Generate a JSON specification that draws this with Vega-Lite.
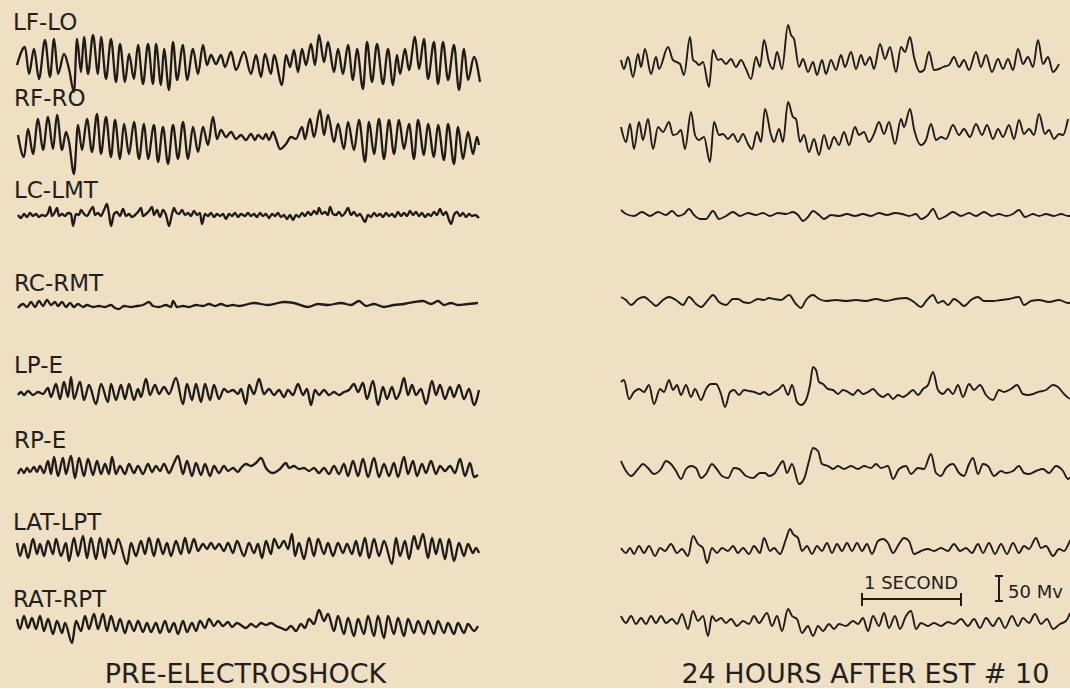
{
"$schema":"https://vega.github.io/schema/vega-lite/v6.json",
"background":"#efe0c4",
"padding":{"left":12,"top":12,"right":0,"bottom":0},
"spacing":132,
"config":{"view":{"stroke":null},"font":"DejaVu Sans"},
"datasets":{
"pre":[
{"ch":"LF-LO","t":0.01,"v":-2},{"ch":"LF-LO","t":0.09,"v":34},{"ch":"LF-LO","t":0.13,"v":-20},{"ch":"LF-LO","t":0.18,"v":30},{"ch":"LF-LO","t":0.23,"v":-30},{"ch":"LF-LO","t":0.29,"v":48},{"ch":"LF-LO","t":0.34,"v":-26},{"ch":"LF-LO","t":0.38,"v":50},{"ch":"LF-LO","t":0.42,"v":-20},{"ch":"LF-LO","t":0.48,"v":20},{"ch":"LF-LO","t":0.53,"v":-10},{"ch":"LF-LO","t":0.58,"v":-56},{"ch":"LF-LO","t":0.61,"v":50},{"ch":"LF-LO","t":0.65,"v":-16},{"ch":"LF-LO","t":0.68,"v":54},{"ch":"LF-LO","t":0.72,"v":-20},{"ch":"LF-LO","t":0.77,"v":58},{"ch":"LF-LO","t":0.82,"v":-20},{"ch":"LF-LO","t":0.85,"v":54},{"ch":"LF-LO","t":0.90,"v":-30},{"ch":"LF-LO","t":0.95,"v":50},{"ch":"LF-LO","t":1.00,"v":-36},{"ch":"LF-LO","t":1.04,"v":40},{"ch":"LF-LO","t":1.09,"v":-36},{"ch":"LF-LO","t":1.13,"v":20},{"ch":"LF-LO","t":1.18,"v":-30},{"ch":"LF-LO","t":1.22,"v":38},{"ch":"LF-LO","t":1.27,"v":-40},{"ch":"LF-LO","t":1.32,"v":40},{"ch":"LF-LO","t":1.37,"v":-40},{"ch":"LF-LO","t":1.40,"v":40},{"ch":"LF-LO","t":1.45,"v":-42},{"ch":"LF-LO","t":1.48,"v":30},{"ch":"LF-LO","t":1.53,"v":-52},{"ch":"LF-LO","t":1.57,"v":44},{"ch":"LF-LO","t":1.61,"v":-32},{"ch":"LF-LO","t":1.67,"v":38},{"ch":"LF-LO","t":1.71,"v":-32},{"ch":"LF-LO","t":1.77,"v":30},{"ch":"LF-LO","t":1.82,"v":-20},{"ch":"LF-LO","t":1.87,"v":38},{"ch":"LF-LO","t":1.91,"v":-2},{"ch":"LF-LO","t":1.95,"v":18},{"ch":"LF-LO","t":2.00,"v":0},{"ch":"LF-LO","t":2.05,"v":18},{"ch":"LF-LO","t":2.09,"v":-6},{"ch":"LF-LO","t":2.15,"v":24},{"ch":"LF-LO","t":2.20,"v":-12},{"ch":"LF-LO","t":2.28,"v":24},{"ch":"LF-LO","t":2.35,"v":-20},{"ch":"LF-LO","t":2.40,"v":18},{"ch":"LF-LO","t":2.45,"v":-26},{"ch":"LF-LO","t":2.49,"v":20},{"ch":"LF-LO","t":2.55,"v":-20},{"ch":"LF-LO","t":2.58,"v":18},{"ch":"LF-LO","t":2.66,"v":-42},{"ch":"LF-LO","t":2.70,"v":18},{"ch":"LF-LO","t":2.74,"v":-6},{"ch":"LF-LO","t":2.78,"v":28},{"ch":"LF-LO","t":2.82,"v":-16},{"ch":"LF-LO","t":2.86,"v":30},{"ch":"LF-LO","t":2.90,"v":-2},{"ch":"LF-LO","t":2.95,"v":40},{"ch":"LF-LO","t":2.99,"v":-2},{"ch":"LF-LO","t":3.03,"v":58},{"ch":"LF-LO","t":3.08,"v":4},{"ch":"LF-LO","t":3.12,"v":44},{"ch":"LF-LO","t":3.18,"v":-16},{"ch":"LF-LO","t":3.22,"v":30},{"ch":"LF-LO","t":3.27,"v":-20},{"ch":"LF-LO","t":3.32,"v":38},{"ch":"LF-LO","t":3.37,"v":-32},{"ch":"LF-LO","t":3.41,"v":30},{"ch":"LF-LO","t":3.47,"v":-50},{"ch":"LF-LO","t":3.51,"v":44},{"ch":"LF-LO","t":3.56,"v":-36},{"ch":"LF-LO","t":3.61,"v":40},{"ch":"LF-LO","t":3.67,"v":-40},{"ch":"LF-LO","t":3.72,"v":30},{"ch":"LF-LO","t":3.77,"v":-42},{"ch":"LF-LO","t":3.81,"v":18},{"ch":"LF-LO","t":3.84,"v":-20},{"ch":"LF-LO","t":3.89,"v":30},{"ch":"LF-LO","t":3.93,"v":-12},{"ch":"LF-LO","t":3.99,"v":54},{"ch":"LF-LO","t":4.03,"v":-10},{"ch":"LF-LO","t":4.08,"v":50},{"ch":"LF-LO","t":4.12,"v":-30},{"ch":"LF-LO","t":4.18,"v":44},{"ch":"LF-LO","t":4.22,"v":-40},{"ch":"LF-LO","t":4.27,"v":44},{"ch":"LF-LO","t":4.32,"v":-32},{"ch":"LF-LO","t":4.38,"v":38},{"ch":"LF-LO","t":4.43,"v":-52},{"ch":"LF-LO","t":4.48,"v":30},{"ch":"LF-LO","t":4.52,"v":-32},{"ch":"LF-LO","t":4.58,"v":14},{"ch":"LF-LO","t":4.64,"v":-36},
{"ch":"RF-RO","t":0.02,"v":18},{"ch":"RF-RO","t":0.08,"v":-26},{"ch":"RF-RO","t":0.12,"v":30},{"ch":"RF-RO","t":0.17,"v":-20},{"ch":"RF-RO","t":0.22,"v":50},{"ch":"RF-RO","t":0.27,"v":-12},{"ch":"RF-RO","t":0.32,"v":54},{"ch":"RF-RO","t":0.37,"v":-10},{"ch":"RF-RO","t":0.41,"v":58},{"ch":"RF-RO","t":0.46,"v":-12},{"ch":"RF-RO","t":0.50,"v":24},{"ch":"RF-RO","t":0.53,"v":4},{"ch":"RF-RO","t":0.58,"v":-60},{"ch":"RF-RO","t":0.62,"v":38},{"ch":"RF-RO","t":0.66,"v":-12},{"ch":"RF-RO","t":0.71,"v":50},{"ch":"RF-RO","t":0.76,"v":-16},{"ch":"RF-RO","t":0.81,"v":60},{"ch":"RF-RO","t":0.85,"v":-20},{"ch":"RF-RO","t":0.90,"v":54},{"ch":"RF-RO","t":0.95,"v":-26},{"ch":"RF-RO","t":0.99,"v":48},{"ch":"RF-RO","t":1.04,"v":-30},{"ch":"RF-RO","t":1.08,"v":40},{"ch":"RF-RO","t":1.13,"v":-20},{"ch":"RF-RO","t":1.18,"v":44},{"ch":"RF-RO","t":1.23,"v":-30},{"ch":"RF-RO","t":1.28,"v":40},{"ch":"RF-RO","t":1.32,"v":-30},{"ch":"RF-RO","t":1.38,"v":38},{"ch":"RF-RO","t":1.42,"v":-36},{"ch":"RF-RO","t":1.47,"v":34},{"ch":"RF-RO","t":1.52,"v":-40},{"ch":"RF-RO","t":1.57,"v":38},{"ch":"RF-RO","t":1.62,"v":-30},{"ch":"RF-RO","t":1.67,"v":44},{"ch":"RF-RO","t":1.72,"v":-30},{"ch":"RF-RO","t":1.77,"v":34},{"ch":"RF-RO","t":1.82,"v":-16},{"ch":"RF-RO","t":1.87,"v":34},{"ch":"RF-RO","t":1.92,"v":-2},{"ch":"RF-RO","t":1.97,"v":54},{"ch":"RF-RO","t":2.01,"v":10},{"ch":"RF-RO","t":2.05,"v":28},{"ch":"RF-RO","t":2.10,"v":14},{"ch":"RF-RO","t":2.15,"v":24},{"ch":"RF-RO","t":2.20,"v":10},{"ch":"RF-RO","t":2.25,"v":18},{"ch":"RF-RO","t":2.30,"v":8},{"ch":"RF-RO","t":2.35,"v":20},{"ch":"RF-RO","t":2.39,"v":8},{"ch":"RF-RO","t":2.42,"v":18},{"ch":"RF-RO","t":2.47,"v":10},{"ch":"RF-RO","t":2.50,"v":20},{"ch":"RF-RO","t":2.53,"v":8},{"ch":"RF-RO","t":2.57,"v":24},{"ch":"RF-RO","t":2.60,"v":10},{"ch":"RF-RO","t":2.64,"v":-10},{"ch":"RF-RO","t":2.70,"v":0},{"ch":"RF-RO","t":2.75,"v":14},{"ch":"RF-RO","t":2.80,"v":10},{"ch":"RF-RO","t":2.86,"v":34},{"ch":"RF-RO","t":2.89,"v":10},{"ch":"RF-RO","t":2.94,"v":50},{"ch":"RF-RO","t":2.98,"v":14},{"ch":"RF-RO","t":3.04,"v":68},{"ch":"RF-RO","t":3.08,"v":18},{"ch":"RF-RO","t":3.12,"v":58},{"ch":"RF-RO","t":3.18,"v":4},{"ch":"RF-RO","t":3.22,"v":40},{"ch":"RF-RO","t":3.28,"v":-10},{"ch":"RF-RO","t":3.32,"v":44},{"ch":"RF-RO","t":3.38,"v":-12},{"ch":"RF-RO","t":3.43,"v":48},{"ch":"RF-RO","t":3.49,"v":-36},{"ch":"RF-RO","t":3.53,"v":44},{"ch":"RF-RO","t":3.58,"v":-20},{"ch":"RF-RO","t":3.63,"v":50},{"ch":"RF-RO","t":3.68,"v":-30},{"ch":"RF-RO","t":3.73,"v":48},{"ch":"RF-RO","t":3.78,"v":-20},{"ch":"RF-RO","t":3.83,"v":48},{"ch":"RF-RO","t":3.88,"v":-10},{"ch":"RF-RO","t":3.93,"v":40},{"ch":"RF-RO","t":3.98,"v":-30},{"ch":"RF-RO","t":4.02,"v":48},{"ch":"RF-RO","t":4.08,"v":-22},{"ch":"RF-RO","t":4.12,"v":40},{"ch":"RF-RO","t":4.18,"v":-26},{"ch":"RF-RO","t":4.22,"v":38},{"ch":"RF-RO","t":4.28,"v":-32},{"ch":"RF-RO","t":4.32,"v":40},{"ch":"RF-RO","t":4.38,"v":-40},{"ch":"RF-RO","t":4.42,"v":34},{"ch":"RF-RO","t":4.47,"v":-30},{"ch":"RF-RO","t":4.52,"v":24},{"ch":"RF-RO","t":4.57,"v":-20},{"ch":"RF-RO","t":4.61,"v":14},{"ch":"RF-RO","t":4.63,"v":-2},
{"ch":"LC-LMT","t":0.02,"v":18},{"ch":"LC-LMT","t":0.05,"v":12},{"ch":"LC-LMT","t":0.08,"v":20},{"ch":"LC-LMT","t":0.11,"v":14},{"ch":"LC-LMT","t":0.14,"v":22},{"ch":"LC-LMT","t":0.17,"v":16},{"ch":"LC-LMT","t":0.20,"v":20},{"ch":"LC-LMT","t":0.23,"v":14},{"ch":"LC-LMT","t":0.26,"v":18},{"ch":"LC-LMT","t":0.29,"v":16},{"ch":"LC-LMT","t":0.32,"v":22},{"ch":"LC-LMT","t":0.34,"v":34},{"ch":"LC-LMT","t":0.36,"v":16},{"ch":"LC-LMT","t":0.39,"v":24},{"ch":"LC-LMT","t":0.41,"v":32},{"ch":"LC-LMT","t":0.43,"v":16},{"ch":"LC-LMT","t":0.46,"v":20},{"ch":"LC-LMT","t":0.49,"v":16},{"ch":"LC-LMT","t":0.52,"v":22},{"ch":"LC-LMT","t":0.55,"v":20},{"ch":"LC-LMT","t":0.57,"v":-4},{"ch":"LC-LMT","t":0.60,"v":20},{"ch":"LC-LMT","t":0.63,"v":18},{"ch":"LC-LMT","t":0.65,"v":28},{"ch":"LC-LMT","t":0.68,"v":20},{"ch":"LC-LMT","t":0.71,"v":16},{"ch":"LC-LMT","t":0.74,"v":26},{"ch":"LC-LMT","t":0.77,"v":34},{"ch":"LC-LMT","t":0.79,"v":18},{"ch":"LC-LMT","t":0.82,"v":22},{"ch":"LC-LMT","t":0.85,"v":16},{"ch":"LC-LMT","t":0.88,"v":28},{"ch":"LC-LMT","t":0.91,"v":40},{"ch":"LC-LMT","t":0.93,"v":20},{"ch":"LC-LMT","t":0.95,"v":-4},{"ch":"LC-LMT","t":0.98,"v":20},{"ch":"LC-LMT","t":1.01,"v":24},{"ch":"LC-LMT","t":1.04,"v":16},{"ch":"LC-LMT","t":1.07,"v":30},{"ch":"LC-LMT","t":1.10,"v":16},{"ch":"LC-LMT","t":1.13,"v":20},{"ch":"LC-LMT","t":1.16,"v":14},{"ch":"LC-LMT","t":1.19,"v":18},{"ch":"LC-LMT","t":1.22,"v":24},{"ch":"LC-LMT","t":1.25,"v":32},{"ch":"LC-LMT","t":1.27,"v":16},{"ch":"LC-LMT","t":1.30,"v":20},{"ch":"LC-LMT","t":1.33,"v":26},{"ch":"LC-LMT","t":1.36,"v":34},{"ch":"LC-LMT","t":1.38,"v":18},{"ch":"LC-LMT","t":1.41,"v":28},{"ch":"LC-LMT","t":1.44,"v":14},{"ch":"LC-LMT","t":1.47,"v":28},{"ch":"LC-LMT","t":1.50,"v":18},{"ch":"LC-LMT","t":1.53,"v":-4},{"ch":"LC-LMT","t":1.56,"v":20},{"ch":"LC-LMT","t":1.58,"v":32},{"ch":"LC-LMT","t":1.60,"v":24},{"ch":"LC-LMT","t":1.63,"v":20},{"ch":"LC-LMT","t":1.66,"v":28},{"ch":"LC-LMT","t":1.69,"v":18},{"ch":"LC-LMT","t":1.72,"v":22},{"ch":"LC-LMT","t":1.75,"v":16},{"ch":"LC-LMT","t":1.78,"v":26},{"ch":"LC-LMT","t":1.81,"v":18},{"ch":"LC-LMT","t":1.84,"v":22},{"ch":"LC-LMT","t":1.86,"v":0},{"ch":"LC-LMT","t":1.89,"v":20},{"ch":"LC-LMT","t":1.92,"v":16},{"ch":"LC-LMT","t":1.95,"v":22},{"ch":"LC-LMT","t":1.98,"v":14},{"ch":"LC-LMT","t":2.01,"v":20},{"ch":"LC-LMT","t":2.04,"v":16},{"ch":"LC-LMT","t":2.07,"v":20},{"ch":"LC-LMT","t":2.10,"v":10},{"ch":"LC-LMT","t":2.13,"v":20},{"ch":"LC-LMT","t":2.16,"v":16},{"ch":"LC-LMT","t":2.19,"v":22},{"ch":"LC-LMT","t":2.22,"v":14},{"ch":"LC-LMT","t":2.25,"v":20},{"ch":"LC-LMT","t":2.29,"v":16},{"ch":"LC-LMT","t":2.32,"v":22},{"ch":"LC-LMT","t":2.35,"v":16},{"ch":"LC-LMT","t":2.38,"v":20},{"ch":"LC-LMT","t":2.41,"v":14},{"ch":"LC-LMT","t":2.44,"v":22},{"ch":"LC-LMT","t":2.47,"v":16},{"ch":"LC-LMT","t":2.50,"v":20},{"ch":"LC-LMT","t":2.53,"v":12},{"ch":"LC-LMT","t":2.56,"v":20},{"ch":"LC-LMT","t":2.59,"v":16},{"ch":"LC-LMT","t":2.62,"v":22},{"ch":"LC-LMT","t":2.65,"v":14},{"ch":"LC-LMT","t":2.68,"v":18},{"ch":"LC-LMT","t":2.71,"v":10},{"ch":"LC-LMT","t":2.74,"v":18},{"ch":"LC-LMT","t":2.77,"v":8},{"ch":"LC-LMT","t":2.80,"v":18},{"ch":"LC-LMT","t":2.83,"v":14},{"ch":"LC-LMT","t":2.86,"v":22},{"ch":"LC-LMT","t":2.89,"v":16},{"ch":"LC-LMT","t":2.92,"v":24},{"ch":"LC-LMT","t":2.95,"v":18},{"ch":"LC-LMT","t":2.98,"v":26},{"ch":"LC-LMT","t":3.01,"v":20},{"ch":"LC-LMT","t":3.03,"v":32},{"ch":"LC-LMT","t":3.06,"v":20},{"ch":"LC-LMT","t":3.09,"v":24},{"ch":"LC-LMT","t":3.12,"v":18},{"ch":"LC-LMT","t":3.14,"v":34},{"ch":"LC-LMT","t":3.17,"v":20},{"ch":"LC-LMT","t":3.20,"v":18},{"ch":"LC-LMT","t":3.23,"v":24},{"ch":"LC-LMT","t":3.26,"v":16},{"ch":"LC-LMT","t":3.29,"v":22},{"ch":"LC-LMT","t":3.32,"v":32},{"ch":"LC-LMT","t":3.35,"v":18},{"ch":"LC-LMT","t":3.38,"v":24},{"ch":"LC-LMT","t":3.41,"v":16},{"ch":"LC-LMT","t":3.44,"v":20},{"ch":"LC-LMT","t":3.47,"v":10},{"ch":"LC-LMT","t":3.49,"v":4},{"ch":"LC-LMT","t":3.52,"v":18},{"ch":"LC-LMT","t":3.55,"v":14},{"ch":"LC-LMT","t":3.58,"v":22},{"ch":"LC-LMT","t":3.61,"v":16},{"ch":"LC-LMT","t":3.64,"v":20},{"ch":"LC-LMT","t":3.67,"v":14},{"ch":"LC-LMT","t":3.70,"v":22},{"ch":"LC-LMT","t":3.73,"v":16},{"ch":"LC-LMT","t":3.76,"v":20},{"ch":"LC-LMT","t":3.79,"v":14},{"ch":"LC-LMT","t":3.82,"v":24},{"ch":"LC-LMT","t":3.85,"v":16},{"ch":"LC-LMT","t":3.88,"v":22},{"ch":"LC-LMT","t":3.91,"v":16},{"ch":"LC-LMT","t":3.94,"v":26},{"ch":"LC-LMT","t":3.97,"v":18},{"ch":"LC-LMT","t":4.00,"v":24},{"ch":"LC-LMT","t":4.03,"v":16},{"ch":"LC-LMT","t":4.06,"v":22},{"ch":"LC-LMT","t":4.09,"v":14},{"ch":"LC-LMT","t":4.12,"v":20},{"ch":"LC-LMT","t":4.15,"v":16},{"ch":"LC-LMT","t":4.18,"v":24},{"ch":"LC-LMT","t":4.21,"v":18},{"ch":"LC-LMT","t":4.24,"v":30},{"ch":"LC-LMT","t":4.27,"v":18},{"ch":"LC-LMT","t":4.30,"v":24},{"ch":"LC-LMT","t":4.33,"v":8},{"ch":"LC-LMT","t":4.35,"v":0},{"ch":"LC-LMT","t":4.38,"v":18},{"ch":"LC-LMT","t":4.41,"v":24},{"ch":"LC-LMT","t":4.44,"v":16},{"ch":"LC-LMT","t":4.47,"v":22},{"ch":"LC-LMT","t":4.50,"v":14},{"ch":"LC-LMT","t":4.53,"v":20},{"ch":"LC-LMT","t":4.56,"v":16},{"ch":"LC-LMT","t":4.59,"v":18},{"ch":"LC-LMT","t":4.63,"v":12},
{"ch":"RC-RMT","t":0.02,"v":-8},{"ch":"RC-RMT","t":0.07,"v":0},{"ch":"RC-RMT","t":0.11,"v":-6},{"ch":"RC-RMT","t":0.15,"v":4},{"ch":"RC-RMT","t":0.19,"v":-6},{"ch":"RC-RMT","t":0.23,"v":6},{"ch":"RC-RMT","t":0.27,"v":-4},{"ch":"RC-RMT","t":0.31,"v":8},{"ch":"RC-RMT","t":0.35,"v":-2},{"ch":"RC-RMT","t":0.39,"v":4},{"ch":"RC-RMT","t":0.42,"v":-4},{"ch":"RC-RMT","t":0.46,"v":4},{"ch":"RC-RMT","t":0.50,"v":-6},{"ch":"RC-RMT","t":0.54,"v":2},{"ch":"RC-RMT","t":0.58,"v":-6},{"ch":"RC-RMT","t":0.62,"v":0},{"ch":"RC-RMT","t":0.67,"v":-6},{"ch":"RC-RMT","t":0.71,"v":-2},{"ch":"RC-RMT","t":0.77,"v":-6},{"ch":"RC-RMT","t":0.83,"v":-4},{"ch":"RC-RMT","t":0.89,"v":-6},{"ch":"RC-RMT","t":0.95,"v":-2},{"ch":"RC-RMT","t":0.99,"v":-8},{"ch":"RC-RMT","t":1.03,"v":-10},{"ch":"RC-RMT","t":1.08,"v":-4},{"ch":"RC-RMT","t":1.15,"v":-6},{"ch":"RC-RMT","t":1.21,"v":-4},{"ch":"RC-RMT","t":1.27,"v":-2},{"ch":"RC-RMT","t":1.33,"v":4},{"ch":"RC-RMT","t":1.37,"v":-4},{"ch":"RC-RMT","t":1.43,"v":-6},{"ch":"RC-RMT","t":1.50,"v":-2},{"ch":"RC-RMT","t":1.55,"v":-6},{"ch":"RC-RMT","t":1.57,"v":6},{"ch":"RC-RMT","t":1.61,"v":-6},{"ch":"RC-RMT","t":1.67,"v":-4},{"ch":"RC-RMT","t":1.73,"v":-6},{"ch":"RC-RMT","t":1.80,"v":-2},{"ch":"RC-RMT","t":1.87,"v":-4},{"ch":"RC-RMT","t":1.93,"v":0},{"ch":"RC-RMT","t":1.99,"v":-4},{"ch":"RC-RMT","t":2.05,"v":0},{"ch":"RC-RMT","t":2.11,"v":-4},{"ch":"RC-RMT","t":2.17,"v":-2},{"ch":"RC-RMT","t":2.23,"v":-4},{"ch":"RC-RMT","t":2.38,"v":2},{"ch":"RC-RMT","t":2.52,"v":-2},{"ch":"RC-RMT","t":2.68,"v":4},{"ch":"RC-RMT","t":2.78,"v":2},{"ch":"RC-RMT","t":2.92,"v":-6},{"ch":"RC-RMT","t":3.02,"v":0},{"ch":"RC-RMT","t":3.12,"v":-2},{"ch":"RC-RMT","t":3.25,"v":2},{"ch":"RC-RMT","t":3.35,"v":-2},{"ch":"RC-RMT","t":3.43,"v":6},{"ch":"RC-RMT","t":3.50,"v":-4},{"ch":"RC-RMT","t":3.58,"v":0},{"ch":"RC-RMT","t":3.68,"v":-6},{"ch":"RC-RMT","t":3.78,"v":-2},{"ch":"RC-RMT","t":3.88,"v":0},{"ch":"RC-RMT","t":3.98,"v":4},{"ch":"RC-RMT","t":4.07,"v":6},{"ch":"RC-RMT","t":4.15,"v":0},{"ch":"RC-RMT","t":4.22,"v":6},{"ch":"RC-RMT","t":4.28,"v":-2},{"ch":"RC-RMT","t":4.35,"v":2},{"ch":"RC-RMT","t":4.42,"v":-2},{"ch":"RC-RMT","t":4.52,"v":0},{"ch":"RC-RMT","t":4.62,"v":2},
{"ch":"LP-E","t":0.02,"v":-22},{"ch":"LP-E","t":0.05,"v":-16},{"ch":"LP-E","t":0.08,"v":-22},{"ch":"LP-E","t":0.12,"v":-14},{"ch":"LP-E","t":0.17,"v":-22},{"ch":"LP-E","t":0.22,"v":-16},{"ch":"LP-E","t":0.27,"v":-20},{"ch":"LP-E","t":0.32,"v":-8},{"ch":"LP-E","t":0.35,"v":-26},{"ch":"LP-E","t":0.40,"v":0},{"ch":"LP-E","t":0.44,"v":-30},{"ch":"LP-E","t":0.48,"v":4},{"ch":"LP-E","t":0.52,"v":-26},{"ch":"LP-E","t":0.55,"v":14},{"ch":"LP-E","t":0.58,"v":-30},{"ch":"LP-E","t":0.64,"v":4},{"ch":"LP-E","t":0.68,"v":-32},{"ch":"LP-E","t":0.73,"v":-2},{"ch":"LP-E","t":0.80,"v":-40},{"ch":"LP-E","t":0.85,"v":0},{"ch":"LP-E","t":0.92,"v":-36},{"ch":"LP-E","t":0.95,"v":0},{"ch":"LP-E","t":1.00,"v":-32},{"ch":"LP-E","t":1.05,"v":-2},{"ch":"LP-E","t":1.09,"v":-30},{"ch":"LP-E","t":1.13,"v":0},{"ch":"LP-E","t":1.18,"v":-32},{"ch":"LP-E","t":1.22,"v":-10},{"ch":"LP-E","t":1.25,"v":-26},{"ch":"LP-E","t":1.30,"v":10},{"ch":"LP-E","t":1.34,"v":-22},{"ch":"LP-E","t":1.39,"v":-2},{"ch":"LP-E","t":1.43,"v":-20},{"ch":"LP-E","t":1.48,"v":-6},{"ch":"LP-E","t":1.53,"v":-20},{"ch":"LP-E","t":1.60,"v":12},{"ch":"LP-E","t":1.67,"v":-40},{"ch":"LP-E","t":1.71,"v":0},{"ch":"LP-E","t":1.76,"v":-32},{"ch":"LP-E","t":1.80,"v":0},{"ch":"LP-E","t":1.85,"v":-36},{"ch":"LP-E","t":1.89,"v":0},{"ch":"LP-E","t":1.94,"v":-32},{"ch":"LP-E","t":1.98,"v":-2},{"ch":"LP-E","t":2.03,"v":-30},{"ch":"LP-E","t":2.08,"v":-10},{"ch":"LP-E","t":2.12,"v":-16},{"ch":"LP-E","t":2.17,"v":-12},{"ch":"LP-E","t":2.22,"v":-20},{"ch":"LP-E","t":2.25,"v":-10},{"ch":"LP-E","t":2.30,"v":-40},{"ch":"LP-E","t":2.33,"v":-2},{"ch":"LP-E","t":2.38,"v":-20},{"ch":"LP-E","t":2.43,"v":10},{"ch":"LP-E","t":2.48,"v":-20},{"ch":"LP-E","t":2.53,"v":-10},{"ch":"LP-E","t":2.58,"v":-22},{"ch":"LP-E","t":2.63,"v":-12},{"ch":"LP-E","t":2.68,"v":-26},{"ch":"LP-E","t":2.72,"v":-12},{"ch":"LP-E","t":2.77,"v":-22},{"ch":"LP-E","t":2.82,"v":0},{"ch":"LP-E","t":2.87,"v":-22},{"ch":"LP-E","t":2.91,"v":-10},{"ch":"LP-E","t":2.95,"v":-42},{"ch":"LP-E","t":2.99,"v":-12},{"ch":"LP-E","t":3.03,"v":-22},{"ch":"LP-E","t":3.08,"v":-12},{"ch":"LP-E","t":3.13,"v":-22},{"ch":"LP-E","t":3.18,"v":-16},{"ch":"LP-E","t":3.23,"v":-22},{"ch":"LP-E","t":3.28,"v":-16},{"ch":"LP-E","t":3.33,"v":-12},{"ch":"LP-E","t":3.38,"v":0},{"ch":"LP-E","t":3.42,"v":-16},{"ch":"LP-E","t":3.47,"v":2},{"ch":"LP-E","t":3.51,"v":-30},{"ch":"LP-E","t":3.57,"v":6},{"ch":"LP-E","t":3.62,"v":-42},{"ch":"LP-E","t":3.67,"v":-6},{"ch":"LP-E","t":3.71,"v":-30},{"ch":"LP-E","t":3.76,"v":-6},{"ch":"LP-E","t":3.80,"v":-30},{"ch":"LP-E","t":3.84,"v":-16},{"ch":"LP-E","t":3.88,"v":12},{"ch":"LP-E","t":3.92,"v":-22},{"ch":"LP-E","t":3.96,"v":-2},{"ch":"LP-E","t":4.00,"v":-22},{"ch":"LP-E","t":4.05,"v":-10},{"ch":"LP-E","t":4.10,"v":-40},{"ch":"LP-E","t":4.16,"v":6},{"ch":"LP-E","t":4.20,"v":-22},{"ch":"LP-E","t":4.24,"v":-2},{"ch":"LP-E","t":4.29,"v":-30},{"ch":"LP-E","t":4.34,"v":-6},{"ch":"LP-E","t":4.38,"v":-26},{"ch":"LP-E","t":4.43,"v":-2},{"ch":"LP-E","t":4.48,"v":-30},{"ch":"LP-E","t":4.53,"v":-10},{"ch":"LP-E","t":4.58,"v":-42},{"ch":"LP-E","t":4.63,"v":-12},
{"ch":"RP-E","t":0.02,"v":-20},{"ch":"RP-E","t":0.05,"v":-10},{"ch":"RP-E","t":0.08,"v":-18},{"ch":"RP-E","t":0.11,"v":-8},{"ch":"RP-E","t":0.14,"v":-16},{"ch":"RP-E","t":0.18,"v":-6},{"ch":"RP-E","t":0.21,"v":-16},{"ch":"RP-E","t":0.24,"v":-4},{"ch":"RP-E","t":0.28,"v":-18},{"ch":"RP-E","t":0.32,"v":6},{"ch":"RP-E","t":0.35,"v":-20},{"ch":"RP-E","t":0.38,"v":14},{"ch":"RP-E","t":0.42,"v":-24},{"ch":"RP-E","t":0.47,"v":12},{"ch":"RP-E","t":0.50,"v":-20},{"ch":"RP-E","t":0.55,"v":16},{"ch":"RP-E","t":0.59,"v":-28},{"ch":"RP-E","t":0.63,"v":12},{"ch":"RP-E","t":0.68,"v":-24},{"ch":"RP-E","t":0.72,"v":10},{"ch":"RP-E","t":0.77,"v":-22},{"ch":"RP-E","t":0.81,"v":6},{"ch":"RP-E","t":0.85,"v":-20},{"ch":"RP-E","t":0.89,"v":0},{"ch":"RP-E","t":0.93,"v":-20},{"ch":"RP-E","t":0.96,"v":14},{"ch":"RP-E","t":1.00,"v":-20},{"ch":"RP-E","t":1.04,"v":-4},{"ch":"RP-E","t":1.09,"v":-20},{"ch":"RP-E","t":1.13,"v":0},{"ch":"RP-E","t":1.18,"v":-18},{"ch":"RP-E","t":1.22,"v":-4},{"ch":"RP-E","t":1.27,"v":-20},{"ch":"RP-E","t":1.32,"v":0},{"ch":"RP-E","t":1.36,"v":-16},{"ch":"RP-E","t":1.40,"v":-4},{"ch":"RP-E","t":1.44,"v":-14},{"ch":"RP-E","t":1.48,"v":0},{"ch":"RP-E","t":1.53,"v":-18},{"ch":"RP-E","t":1.58,"v":2},{"ch":"RP-E","t":1.62,"v":16},{"ch":"RP-E","t":1.67,"v":-20},{"ch":"RP-E","t":1.71,"v":6},{"ch":"RP-E","t":1.76,"v":-24},{"ch":"RP-E","t":1.80,"v":2},{"ch":"RP-E","t":1.85,"v":-22},{"ch":"RP-E","t":1.89,"v":0},{"ch":"RP-E","t":1.94,"v":-24},{"ch":"RP-E","t":1.98,"v":-4},{"ch":"RP-E","t":2.03,"v":-18},{"ch":"RP-E","t":2.08,"v":-4},{"ch":"RP-E","t":2.12,"v":-14},{"ch":"RP-E","t":2.17,"v":-8},{"ch":"RP-E","t":2.22,"v":-16},{"ch":"RP-E","t":2.25,"v":-8},{"ch":"RP-E","t":2.30,"v":0},{"ch":"RP-E","t":2.35,"v":-4},{"ch":"RP-E","t":2.40,"v":2},{"ch":"RP-E","t":2.45,"v":12},{"ch":"RP-E","t":2.50,"v":-8},{"ch":"RP-E","t":2.57,"v":-18},{"ch":"RP-E","t":2.64,"v":-10},{"ch":"RP-E","t":2.70,"v":2},{"ch":"RP-E","t":2.73,"v":-8},{"ch":"RP-E","t":2.78,"v":-4},{"ch":"RP-E","t":2.83,"v":-10},{"ch":"RP-E","t":2.88,"v":-8},{"ch":"RP-E","t":2.93,"v":-14},{"ch":"RP-E","t":2.98,"v":-8},{"ch":"RP-E","t":3.03,"v":-18},{"ch":"RP-E","t":3.08,"v":-8},{"ch":"RP-E","t":3.13,"v":-20},{"ch":"RP-E","t":3.18,"v":-4},{"ch":"RP-E","t":3.23,"v":-20},{"ch":"RP-E","t":3.28,"v":0},{"ch":"RP-E","t":3.32,"v":-24},{"ch":"RP-E","t":3.37,"v":6},{"ch":"RP-E","t":3.42,"v":-24},{"ch":"RP-E","t":3.47,"v":10},{"ch":"RP-E","t":3.52,"v":-26},{"ch":"RP-E","t":3.58,"v":12},{"ch":"RP-E","t":3.63,"v":-26},{"ch":"RP-E","t":3.68,"v":0},{"ch":"RP-E","t":3.73,"v":-24},{"ch":"RP-E","t":3.78,"v":2},{"ch":"RP-E","t":3.82,"v":-26},{"ch":"RP-E","t":3.88,"v":14},{"ch":"RP-E","t":3.92,"v":-20},{"ch":"RP-E","t":3.97,"v":6},{"ch":"RP-E","t":4.01,"v":-24},{"ch":"RP-E","t":4.06,"v":0},{"ch":"RP-E","t":4.10,"v":-18},{"ch":"RP-E","t":4.15,"v":6},{"ch":"RP-E","t":4.20,"v":-20},{"ch":"RP-E","t":4.24,"v":-4},{"ch":"RP-E","t":4.29,"v":-14},{"ch":"RP-E","t":4.34,"v":-4},{"ch":"RP-E","t":4.39,"v":-18},{"ch":"RP-E","t":4.44,"v":10},{"ch":"RP-E","t":4.49,"v":-24},{"ch":"RP-E","t":4.54,"v":2},{"ch":"RP-E","t":4.58,"v":-26},{"ch":"RP-E","t":4.62,"v":-22},
{"ch":"LAT-LPT","t":0.01,"v":2},{"ch":"LAT-LPT","t":0.04,"v":-24},{"ch":"LAT-LPT","t":0.08,"v":0},{"ch":"LAT-LPT","t":0.12,"v":-28},{"ch":"LAT-LPT","t":0.17,"v":10},{"ch":"LAT-LPT","t":0.21,"v":-20},{"ch":"LAT-LPT","t":0.24,"v":0},{"ch":"LAT-LPT","t":0.28,"v":-24},{"ch":"LAT-LPT","t":0.32,"v":6},{"ch":"LAT-LPT","t":0.37,"v":-20},{"ch":"LAT-LPT","t":0.40,"v":10},{"ch":"LAT-LPT","t":0.45,"v":-24},{"ch":"LAT-LPT","t":0.50,"v":2},{"ch":"LAT-LPT","t":0.53,"v":-34},{"ch":"LAT-LPT","t":0.58,"v":12},{"ch":"LAT-LPT","t":0.62,"v":-24},{"ch":"LAT-LPT","t":0.67,"v":16},{"ch":"LAT-LPT","t":0.71,"v":-28},{"ch":"LAT-LPT","t":0.75,"v":12},{"ch":"LAT-LPT","t":0.80,"v":-30},{"ch":"LAT-LPT","t":0.84,"v":12},{"ch":"LAT-LPT","t":0.89,"v":-28},{"ch":"LAT-LPT","t":0.92,"v":10},{"ch":"LAT-LPT","t":0.98,"v":-20},{"ch":"LAT-LPT","t":1.02,"v":10},{"ch":"LAT-LPT","t":1.11,"v":-40},{"ch":"LAT-LPT","t":1.15,"v":2},{"ch":"LAT-LPT","t":1.20,"v":-24},{"ch":"LAT-LPT","t":1.25,"v":6},{"ch":"LAT-LPT","t":1.29,"v":-20},{"ch":"LAT-LPT","t":1.33,"v":12},{"ch":"LAT-LPT","t":1.38,"v":-24},{"ch":"LAT-LPT","t":1.42,"v":10},{"ch":"LAT-LPT","t":1.47,"v":-20},{"ch":"LAT-LPT","t":1.51,"v":2},{"ch":"LAT-LPT","t":1.55,"v":-24},{"ch":"LAT-LPT","t":1.60,"v":6},{"ch":"LAT-LPT","t":1.65,"v":-20},{"ch":"LAT-LPT","t":1.69,"v":12},{"ch":"LAT-LPT","t":1.73,"v":-18},{"ch":"LAT-LPT","t":1.78,"v":10},{"ch":"LAT-LPT","t":1.82,"v":-14},{"ch":"LAT-LPT","t":1.87,"v":0},{"ch":"LAT-LPT","t":1.91,"v":-10},{"ch":"LAT-LPT","t":1.95,"v":2},{"ch":"LAT-LPT","t":1.99,"v":-10},{"ch":"LAT-LPT","t":2.03,"v":0},{"ch":"LAT-LPT","t":2.08,"v":-14},{"ch":"LAT-LPT","t":2.12,"v":2},{"ch":"LAT-LPT","t":2.17,"v":-18},{"ch":"LAT-LPT","t":2.21,"v":6},{"ch":"LAT-LPT","t":2.28,"v":-24},{"ch":"LAT-LPT","t":2.33,"v":2},{"ch":"LAT-LPT","t":2.38,"v":-18},{"ch":"LAT-LPT","t":2.42,"v":0},{"ch":"LAT-LPT","t":2.46,"v":-28},{"ch":"LAT-LPT","t":2.50,"v":6},{"ch":"LAT-LPT","t":2.55,"v":-20},{"ch":"LAT-LPT","t":2.58,"v":10},{"ch":"LAT-LPT","t":2.63,"v":-8},{"ch":"LAT-LPT","t":2.68,"v":6},{"ch":"LAT-LPT","t":2.72,"v":-10},{"ch":"LAT-LPT","t":2.76,"v":20},{"ch":"LAT-LPT","t":2.79,"v":-24},{"ch":"LAT-LPT","t":2.83,"v":2},{"ch":"LAT-LPT","t":2.88,"v":-30},{"ch":"LAT-LPT","t":2.93,"v":12},{"ch":"LAT-LPT","t":2.98,"v":-24},{"ch":"LAT-LPT","t":3.02,"v":10},{"ch":"LAT-LPT","t":3.08,"v":-20},{"ch":"LAT-LPT","t":3.12,"v":2},{"ch":"LAT-LPT","t":3.17,"v":-24},{"ch":"LAT-LPT","t":3.22,"v":2},{"ch":"LAT-LPT","t":3.27,"v":-18},{"ch":"LAT-LPT","t":3.31,"v":0},{"ch":"LAT-LPT","t":3.36,"v":-20},{"ch":"LAT-LPT","t":3.40,"v":6},{"ch":"LAT-LPT","t":3.44,"v":-24},{"ch":"LAT-LPT","t":3.49,"v":12},{"ch":"LAT-LPT","t":3.53,"v":-28},{"ch":"LAT-LPT","t":3.58,"v":10},{"ch":"LAT-LPT","t":3.63,"v":-24},{"ch":"LAT-LPT","t":3.68,"v":6},{"ch":"LAT-LPT","t":3.76,"v":-40},{"ch":"LAT-LPT","t":3.80,"v":12},{"ch":"LAT-LPT","t":3.84,"v":-24},{"ch":"LAT-LPT","t":3.89,"v":6},{"ch":"LAT-LPT","t":3.93,"v":-30},{"ch":"LAT-LPT","t":3.98,"v":16},{"ch":"LAT-LPT","t":4.02,"v":-10},{"ch":"LAT-LPT","t":4.07,"v":20},{"ch":"LAT-LPT","t":4.12,"v":-28},{"ch":"LAT-LPT","t":4.16,"v":12},{"ch":"LAT-LPT","t":4.20,"v":-20},{"ch":"LAT-LPT","t":4.24,"v":10},{"ch":"LAT-LPT","t":4.29,"v":-30},{"ch":"LAT-LPT","t":4.33,"v":10},{"ch":"LAT-LPT","t":4.38,"v":-34},{"ch":"LAT-LPT","t":4.43,"v":2},{"ch":"LAT-LPT","t":4.48,"v":-24},{"ch":"LAT-LPT","t":4.52,"v":0},{"ch":"LAT-LPT","t":4.57,"v":-18},{"ch":"LAT-LPT","t":4.60,"v":-8},{"ch":"LAT-LPT","t":4.63,"v":-18},
{"ch":"RAT-RPT","t":0.01,"v":10},{"ch":"RAT-RPT","t":0.04,"v":-10},{"ch":"RAT-RPT","t":0.08,"v":16},{"ch":"RAT-RPT","t":0.12,"v":-8},{"ch":"RAT-RPT","t":0.16,"v":12},{"ch":"RAT-RPT","t":0.20,"v":-10},{"ch":"RAT-RPT","t":0.24,"v":16},{"ch":"RAT-RPT","t":0.28,"v":-14},{"ch":"RAT-RPT","t":0.32,"v":10},{"ch":"RAT-RPT","t":0.37,"v":-20},{"ch":"RAT-RPT","t":0.41,"v":6},{"ch":"RAT-RPT","t":0.46,"v":-18},{"ch":"RAT-RPT","t":0.49,"v":2},{"ch":"RAT-RPT","t":0.56,"v":-38},{"ch":"RAT-RPT","t":0.60,"v":6},{"ch":"RAT-RPT","t":0.65,"v":-14},{"ch":"RAT-RPT","t":0.69,"v":16},{"ch":"RAT-RPT","t":0.73,"v":-10},{"ch":"RAT-RPT","t":0.78,"v":20},{"ch":"RAT-RPT","t":0.82,"v":-10},{"ch":"RAT-RPT","t":0.87,"v":20},{"ch":"RAT-RPT","t":0.91,"v":-14},{"ch":"RAT-RPT","t":0.95,"v":16},{"ch":"RAT-RPT","t":1.00,"v":-14},{"ch":"RAT-RPT","t":1.04,"v":10},{"ch":"RAT-RPT","t":1.09,"v":-18},{"ch":"RAT-RPT","t":1.13,"v":6},{"ch":"RAT-RPT","t":1.18,"v":-14},{"ch":"RAT-RPT","t":1.22,"v":6},{"ch":"RAT-RPT","t":1.27,"v":-16},{"ch":"RAT-RPT","t":1.31,"v":2},{"ch":"RAT-RPT","t":1.35,"v":-16},{"ch":"RAT-RPT","t":1.40,"v":2},{"ch":"RAT-RPT","t":1.44,"v":-18},{"ch":"RAT-RPT","t":1.49,"v":6},{"ch":"RAT-RPT","t":1.53,"v":-16},{"ch":"RAT-RPT","t":1.58,"v":2},{"ch":"RAT-RPT","t":1.62,"v":-20},{"ch":"RAT-RPT","t":1.67,"v":6},{"ch":"RAT-RPT","t":1.71,"v":-16},{"ch":"RAT-RPT","t":1.76,"v":2},{"ch":"RAT-RPT","t":1.80,"v":-14},{"ch":"RAT-RPT","t":1.84,"v":6},{"ch":"RAT-RPT","t":1.89,"v":-8},{"ch":"RAT-RPT","t":1.93,"v":10},{"ch":"RAT-RPT","t":1.98,"v":-4},{"ch":"RAT-RPT","t":2.02,"v":6},{"ch":"RAT-RPT","t":2.07,"v":-4},{"ch":"RAT-RPT","t":2.12,"v":4},{"ch":"RAT-RPT","t":2.16,"v":-6},{"ch":"RAT-RPT","t":2.21,"v":2},{"ch":"RAT-RPT","t":2.30,"v":-8},{"ch":"RAT-RPT","t":2.35,"v":0},{"ch":"RAT-RPT","t":2.40,"v":-6},{"ch":"RAT-RPT","t":2.45,"v":2},{"ch":"RAT-RPT","t":2.50,"v":-2},{"ch":"RAT-RPT","t":2.55,"v":2},{"ch":"RAT-RPT","t":2.60,"v":-4},{"ch":"RAT-RPT","t":2.65,"v":-8},{"ch":"RAT-RPT","t":2.70,"v":-12},{"ch":"RAT-RPT","t":2.75,"v":-4},{"ch":"RAT-RPT","t":2.80,"v":-14},{"ch":"RAT-RPT","t":2.85,"v":0},{"ch":"RAT-RPT","t":2.89,"v":-8},{"ch":"RAT-RPT","t":2.93,"v":10},{"ch":"RAT-RPT","t":2.98,"v":0},{"ch":"RAT-RPT","t":3.03,"v":28},{"ch":"RAT-RPT","t":3.08,"v":6},{"ch":"RAT-RPT","t":3.12,"v":20},{"ch":"RAT-RPT","t":3.18,"v":-14},{"ch":"RAT-RPT","t":3.22,"v":16},{"ch":"RAT-RPT","t":3.28,"v":-20},{"ch":"RAT-RPT","t":3.32,"v":12},{"ch":"RAT-RPT","t":3.38,"v":-24},{"ch":"RAT-RPT","t":3.42,"v":10},{"ch":"RAT-RPT","t":3.48,"v":-20},{"ch":"RAT-RPT","t":3.52,"v":16},{"ch":"RAT-RPT","t":3.58,"v":-24},{"ch":"RAT-RPT","t":3.62,"v":16},{"ch":"RAT-RPT","t":3.68,"v":-28},{"ch":"RAT-RPT","t":3.72,"v":16},{"ch":"RAT-RPT","t":3.78,"v":-20},{"ch":"RAT-RPT","t":3.82,"v":12},{"ch":"RAT-RPT","t":3.88,"v":-24},{"ch":"RAT-RPT","t":3.92,"v":10},{"ch":"RAT-RPT","t":3.98,"v":-18},{"ch":"RAT-RPT","t":4.02,"v":6},{"ch":"RAT-RPT","t":4.08,"v":-20},{"ch":"RAT-RPT","t":4.12,"v":6},{"ch":"RAT-RPT","t":4.18,"v":-20},{"ch":"RAT-RPT","t":4.22,"v":6},{"ch":"RAT-RPT","t":4.28,"v":-18},{"ch":"RAT-RPT","t":4.32,"v":2},{"ch":"RAT-RPT","t":4.38,"v":-20},{"ch":"RAT-RPT","t":4.42,"v":2},{"ch":"RAT-RPT","t":4.48,"v":-18},{"ch":"RAT-RPT","t":4.52,"v":0},{"ch":"RAT-RPT","t":4.58,"v":-14},{"ch":"RAT-RPT","t":4.62,"v":-4}
],
"post":[
{"ch":"LF-LO","t":0.00,"v":8},{"ch":"LF-LO","t":0.03,"v":-10},{"ch":"LF-LO","t":0.07,"v":14},{"ch":"LF-LO","t":0.12,"v":-26},{"ch":"LF-LO","t":0.17,"v":20},{"ch":"LF-LO","t":0.20,"v":-6},{"ch":"LF-LO","t":0.24,"v":30},{"ch":"LF-LO","t":0.30,"v":-20},{"ch":"LF-LO","t":0.35,"v":14},{"ch":"LF-LO","t":0.38,"v":-10},{"ch":"LF-LO","t":0.47,"v":34},{"ch":"LF-LO","t":0.52,"v":8},{"ch":"LF-LO","t":0.59,"v":0},{"ch":"LF-LO","t":0.63,"v":-22},{"ch":"LF-LO","t":0.69,"v":54},{"ch":"LF-LO","t":0.72,"v":8},{"ch":"LF-LO","t":0.75,"v":4},{"ch":"LF-LO","t":0.78,"v":-2},{"ch":"LF-LO","t":0.82,"v":4},{"ch":"LF-LO","t":0.88,"v":-46},{"ch":"LF-LO","t":0.92,"v":28},{"ch":"LF-LO","t":0.97,"v":8},{"ch":"LF-LO","t":1.00,"v":10},{"ch":"LF-LO","t":1.05,"v":0},{"ch":"LF-LO","t":1.10,"v":10},{"ch":"LF-LO","t":1.15,"v":-6},{"ch":"LF-LO","t":1.20,"v":8},{"ch":"LF-LO","t":1.25,"v":-10},{"ch":"LF-LO","t":1.30,"v":-30},{"ch":"LF-LO","t":1.35,"v":14},{"ch":"LF-LO","t":1.39,"v":-6},{"ch":"LF-LO","t":1.43,"v":48},{"ch":"LF-LO","t":1.48,"v":4},{"ch":"LF-LO","t":1.52,"v":-10},{"ch":"LF-LO","t":1.56,"v":24},{"ch":"LF-LO","t":1.61,"v":-10},{"ch":"LF-LO","t":1.67,"v":78},{"ch":"LF-LO","t":1.70,"v":58},{"ch":"LF-LO","t":1.73,"v":50},{"ch":"LF-LO","t":1.78,"v":-6},{"ch":"LF-LO","t":1.82,"v":10},{"ch":"LF-LO","t":1.87,"v":-16},{"ch":"LF-LO","t":1.92,"v":4},{"ch":"LF-LO","t":1.96,"v":-22},{"ch":"LF-LO","t":2.01,"v":8},{"ch":"LF-LO","t":2.05,"v":-20},{"ch":"LF-LO","t":2.10,"v":8},{"ch":"LF-LO","t":2.15,"v":-12},{"ch":"LF-LO","t":2.20,"v":18},{"ch":"LF-LO","t":2.24,"v":-6},{"ch":"LF-LO","t":2.30,"v":24},{"ch":"LF-LO","t":2.35,"v":-10},{"ch":"LF-LO","t":2.40,"v":18},{"ch":"LF-LO","t":2.44,"v":-2},{"ch":"LF-LO","t":2.49,"v":14},{"ch":"LF-LO","t":2.53,"v":-10},{"ch":"LF-LO","t":2.59,"v":40},{"ch":"LF-LO","t":2.64,"v":10},{"ch":"LF-LO","t":2.69,"v":34},{"ch":"LF-LO","t":2.75,"v":-16},{"ch":"LF-LO","t":2.80,"v":34},{"ch":"LF-LO","t":2.84,"v":24},{"ch":"LF-LO","t":2.89,"v":54},{"ch":"LF-LO","t":2.93,"v":14},{"ch":"LF-LO","t":2.99,"v":-16},{"ch":"LF-LO","t":3.03,"v":-12},{"ch":"LF-LO","t":3.08,"v":24},{"ch":"LF-LO","t":3.13,"v":-12},{"ch":"LF-LO","t":3.18,"v":-10},{"ch":"LF-LO","t":3.22,"v":-6},{"ch":"LF-LO","t":3.28,"v":-2},{"ch":"LF-LO","t":3.33,"v":14},{"ch":"LF-LO","t":3.38,"v":-6},{"ch":"LF-LO","t":3.43,"v":8},{"ch":"LF-LO","t":3.48,"v":-12},{"ch":"LF-LO","t":3.55,"v":24},{"ch":"LF-LO","t":3.60,"v":-6},{"ch":"LF-LO","t":3.65,"v":18},{"ch":"LF-LO","t":3.71,"v":-16},{"ch":"LF-LO","t":3.77,"v":10},{"ch":"LF-LO","t":3.82,"v":-10},{"ch":"LF-LO","t":3.87,"v":10},{"ch":"LF-LO","t":3.92,"v":-12},{"ch":"LF-LO","t":3.97,"v":30},{"ch":"LF-LO","t":4.02,"v":0},{"ch":"LF-LO","t":4.07,"v":14},{"ch":"LF-LO","t":4.12,"v":-6},{"ch":"LF-LO","t":4.17,"v":48},{"ch":"LF-LO","t":4.22,"v":0},{"ch":"LF-LO","t":4.27,"v":14},{"ch":"LF-LO","t":4.32,"v":-16},{"ch":"LF-LO","t":4.38,"v":0},
{"ch":"RF-RO","t":0.00,"v":34},{"ch":"RF-RO","t":0.05,"v":4},{"ch":"RF-RO","t":0.09,"v":40},{"ch":"RF-RO","t":0.13,"v":-10},{"ch":"RF-RO","t":0.18,"v":44},{"ch":"RF-RO","t":0.22,"v":8},{"ch":"RF-RO","t":0.27,"v":50},{"ch":"RF-RO","t":0.32,"v":-10},{"ch":"RF-RO","t":0.37,"v":34},{"ch":"RF-RO","t":0.42,"v":24},{"ch":"RF-RO","t":0.48,"v":44},{"ch":"RF-RO","t":0.52,"v":18},{"ch":"RF-RO","t":0.56,"v":20},{"ch":"RF-RO","t":0.60,"v":28},{"ch":"RF-RO","t":0.64,"v":-10},{"ch":"RF-RO","t":0.70,"v":64},{"ch":"RF-RO","t":0.74,"v":18},{"ch":"RF-RO","t":0.78,"v":8},{"ch":"RF-RO","t":0.83,"v":14},{"ch":"RF-RO","t":0.89,"v":-36},{"ch":"RF-RO","t":0.93,"v":44},{"ch":"RF-RO","t":0.98,"v":18},{"ch":"RF-RO","t":1.02,"v":20},{"ch":"RF-RO","t":1.07,"v":10},{"ch":"RF-RO","t":1.12,"v":20},{"ch":"RF-RO","t":1.17,"v":4},{"ch":"RF-RO","t":1.22,"v":20},{"ch":"RF-RO","t":1.27,"v":0},{"ch":"RF-RO","t":1.31,"v":-10},{"ch":"RF-RO","t":1.36,"v":24},{"ch":"RF-RO","t":1.40,"v":4},{"ch":"RF-RO","t":1.44,"v":70},{"ch":"RF-RO","t":1.50,"v":18},{"ch":"RF-RO","t":1.53,"v":4},{"ch":"RF-RO","t":1.58,"v":30},{"ch":"RF-RO","t":1.62,"v":4},{"ch":"RF-RO","t":1.67,"v":84},{"ch":"RF-RO","t":1.72,"v":54},{"ch":"RF-RO","t":1.75,"v":50},{"ch":"RF-RO","t":1.79,"v":4},{"ch":"RF-RO","t":1.83,"v":18},{"ch":"RF-RO","t":1.88,"v":-16},{"ch":"RF-RO","t":1.93,"v":10},{"ch":"RF-RO","t":1.98,"v":-22},{"ch":"RF-RO","t":2.03,"v":18},{"ch":"RF-RO","t":2.08,"v":-10},{"ch":"RF-RO","t":2.13,"v":14},{"ch":"RF-RO","t":2.18,"v":-2},{"ch":"RF-RO","t":2.23,"v":24},{"ch":"RF-RO","t":2.28,"v":-2},{"ch":"RF-RO","t":2.34,"v":34},{"ch":"RF-RO","t":2.38,"v":18},{"ch":"RF-RO","t":2.43,"v":24},{"ch":"RF-RO","t":2.48,"v":4},{"ch":"RF-RO","t":2.53,"v":20},{"ch":"RF-RO","t":2.58,"v":44},{"ch":"RF-RO","t":2.63,"v":20},{"ch":"RF-RO","t":2.68,"v":44},{"ch":"RF-RO","t":2.74,"v":0},{"ch":"RF-RO","t":2.80,"v":50},{"ch":"RF-RO","t":2.83,"v":34},{"ch":"RF-RO","t":2.89,"v":70},{"ch":"RF-RO","t":2.93,"v":30},{"ch":"RF-RO","t":3.00,"v":-2},{"ch":"RF-RO","t":3.05,"v":8},{"ch":"RF-RO","t":3.10,"v":40},{"ch":"RF-RO","t":3.15,"v":8},{"ch":"RF-RO","t":3.20,"v":14},{"ch":"RF-RO","t":3.25,"v":10},{"ch":"RF-RO","t":3.32,"v":38},{"ch":"RF-RO","t":3.38,"v":18},{"ch":"RF-RO","t":3.43,"v":30},{"ch":"RF-RO","t":3.49,"v":14},{"ch":"RF-RO","t":3.55,"v":40},{"ch":"RF-RO","t":3.61,"v":18},{"ch":"RF-RO","t":3.66,"v":38},{"ch":"RF-RO","t":3.72,"v":10},{"ch":"RF-RO","t":3.77,"v":30},{"ch":"RF-RO","t":3.82,"v":14},{"ch":"RF-RO","t":3.88,"v":38},{"ch":"RF-RO","t":3.93,"v":10},{"ch":"RF-RO","t":3.98,"v":48},{"ch":"RF-RO","t":4.03,"v":20},{"ch":"RF-RO","t":4.08,"v":30},{"ch":"RF-RO","t":4.13,"v":18},{"ch":"RF-RO","t":4.18,"v":60},{"ch":"RF-RO","t":4.24,"v":20},{"ch":"RF-RO","t":4.28,"v":28},{"ch":"RF-RO","t":4.33,"v":10},{"ch":"RF-RO","t":4.38,"v":20},{"ch":"RF-RO","t":4.42,"v":18},{"ch":"RF-RO","t":4.47,"v":50},
{"ch":"LC-LMT","t":0.00,"v":28},{"ch":"LC-LMT","t":0.05,"v":20},{"ch":"LC-LMT","t":0.13,"v":16},{"ch":"LC-LMT","t":0.21,"v":24},{"ch":"LC-LMT","t":0.29,"v":16},{"ch":"LC-LMT","t":0.37,"v":24},{"ch":"LC-LMT","t":0.45,"v":18},{"ch":"LC-LMT","t":0.51,"v":26},{"ch":"LC-LMT","t":0.57,"v":16},{"ch":"LC-LMT","t":0.63,"v":20},{"ch":"LC-LMT","t":0.68,"v":30},{"ch":"LC-LMT","t":0.73,"v":18},{"ch":"LC-LMT","t":0.79,"v":10},{"ch":"LC-LMT","t":0.85,"v":10},{"ch":"LC-LMT","t":0.92,"v":26},{"ch":"LC-LMT","t":0.98,"v":10},{"ch":"LC-LMT","t":1.05,"v":16},{"ch":"LC-LMT","t":1.12,"v":24},{"ch":"LC-LMT","t":1.19,"v":16},{"ch":"LC-LMT","t":1.27,"v":22},{"ch":"LC-LMT","t":1.35,"v":18},{"ch":"LC-LMT","t":1.42,"v":22},{"ch":"LC-LMT","t":1.49,"v":16},{"ch":"LC-LMT","t":1.57,"v":22},{"ch":"LC-LMT","t":1.65,"v":20},{"ch":"LC-LMT","t":1.72,"v":24},{"ch":"LC-LMT","t":1.77,"v":18},{"ch":"LC-LMT","t":1.82,"v":6},{"ch":"LC-LMT","t":1.87,"v":14},{"ch":"LC-LMT","t":1.92,"v":26},{"ch":"LC-LMT","t":1.98,"v":18},{"ch":"LC-LMT","t":2.03,"v":10},{"ch":"LC-LMT","t":2.10,"v":18},{"ch":"LC-LMT","t":2.18,"v":16},{"ch":"LC-LMT","t":2.26,"v":20},{"ch":"LC-LMT","t":2.34,"v":16},{"ch":"LC-LMT","t":2.42,"v":20},{"ch":"LC-LMT","t":2.50,"v":16},{"ch":"LC-LMT","t":2.58,"v":22},{"ch":"LC-LMT","t":2.66,"v":18},{"ch":"LC-LMT","t":2.74,"v":22},{"ch":"LC-LMT","t":2.81,"v":20},{"ch":"LC-LMT","t":2.88,"v":16},{"ch":"LC-LMT","t":2.95,"v":20},{"ch":"LC-LMT","t":3.00,"v":10},{"ch":"LC-LMT","t":3.07,"v":18},{"ch":"LC-LMT","t":3.12,"v":30},{"ch":"LC-LMT","t":3.18,"v":10},{"ch":"LC-LMT","t":3.25,"v":16},{"ch":"LC-LMT","t":3.32,"v":24},{"ch":"LC-LMT","t":3.40,"v":16},{"ch":"LC-LMT","t":3.48,"v":22},{"ch":"LC-LMT","t":3.55,"v":16},{"ch":"LC-LMT","t":3.63,"v":24},{"ch":"LC-LMT","t":3.71,"v":16},{"ch":"LC-LMT","t":3.78,"v":20},{"ch":"LC-LMT","t":3.85,"v":16},{"ch":"LC-LMT","t":3.92,"v":20},{"ch":"LC-LMT","t":3.98,"v":28},{"ch":"LC-LMT","t":4.04,"v":14},{"ch":"LC-LMT","t":4.12,"v":20},{"ch":"LC-LMT","t":4.18,"v":16},{"ch":"LC-LMT","t":4.25,"v":20},{"ch":"LC-LMT","t":4.33,"v":16},{"ch":"LC-LMT","t":4.40,"v":20},{"ch":"LC-LMT","t":4.47,"v":16},{"ch":"LC-LMT","t":4.52,"v":18},
{"ch":"RC-RMT","t":0.00,"v":14},{"ch":"RC-RMT","t":0.05,"v":8},{"ch":"RC-RMT","t":0.10,"v":-2},{"ch":"RC-RMT","t":0.17,"v":10},{"ch":"RC-RMT","t":0.23,"v":14},{"ch":"RC-RMT","t":0.30,"v":4},{"ch":"RC-RMT","t":0.35,"v":-4},{"ch":"RC-RMT","t":0.42,"v":8},{"ch":"RC-RMT","t":0.48,"v":14},{"ch":"RC-RMT","t":0.55,"v":8},{"ch":"RC-RMT","t":0.62,"v":-2},{"ch":"RC-RMT","t":0.68,"v":14},{"ch":"RC-RMT","t":0.75,"v":0},{"ch":"RC-RMT","t":0.80,"v":-6},{"ch":"RC-RMT","t":0.87,"v":8},{"ch":"RC-RMT","t":0.92,"v":18},{"ch":"RC-RMT","t":0.98,"v":4},{"ch":"RC-RMT","t":1.05,"v":-2},{"ch":"RC-RMT","t":1.12,"v":10},{"ch":"RC-RMT","t":1.17,"v":10},{"ch":"RC-RMT","t":1.22,"v":4},{"ch":"RC-RMT","t":1.28,"v":2},{"ch":"RC-RMT","t":1.37,"v":10},{"ch":"RC-RMT","t":1.43,"v":8},{"ch":"RC-RMT","t":1.48,"v":12},{"ch":"RC-RMT","t":1.53,"v":10},{"ch":"RC-RMT","t":1.60,"v":8},{"ch":"RC-RMT","t":1.68,"v":18},{"ch":"RC-RMT","t":1.75,"v":0},{"ch":"RC-RMT","t":1.80,"v":-8},{"ch":"RC-RMT","t":1.85,"v":8},{"ch":"RC-RMT","t":1.92,"v":18},{"ch":"RC-RMT","t":1.98,"v":10},{"ch":"RC-RMT","t":2.05,"v":6},{"ch":"RC-RMT","t":2.15,"v":8},{"ch":"RC-RMT","t":2.25,"v":6},{"ch":"RC-RMT","t":2.35,"v":8},{"ch":"RC-RMT","t":2.45,"v":6},{"ch":"RC-RMT","t":2.55,"v":10},{"ch":"RC-RMT","t":2.65,"v":6},{"ch":"RC-RMT","t":2.75,"v":10},{"ch":"RC-RMT","t":2.85,"v":12},{"ch":"RC-RMT","t":2.93,"v":4},{"ch":"RC-RMT","t":3.00,"v":-6},{"ch":"RC-RMT","t":3.06,"v":8},{"ch":"RC-RMT","t":3.12,"v":18},{"ch":"RC-RMT","t":3.17,"v":2},{"ch":"RC-RMT","t":3.22,"v":6},{"ch":"RC-RMT","t":3.27,"v":-2},{"ch":"RC-RMT","t":3.33,"v":10},{"ch":"RC-RMT","t":3.38,"v":4},{"ch":"RC-RMT","t":3.43,"v":-4},{"ch":"RC-RMT","t":3.50,"v":8},{"ch":"RC-RMT","t":3.57,"v":14},{"ch":"RC-RMT","t":3.63,"v":6},{"ch":"RC-RMT","t":3.72,"v":6},{"ch":"RC-RMT","t":3.80,"v":8},{"ch":"RC-RMT","t":3.88,"v":10},{"ch":"RC-RMT","t":3.98,"v":14},{"ch":"RC-RMT","t":4.03,"v":-2},{"ch":"RC-RMT","t":4.10,"v":6},{"ch":"RC-RMT","t":4.18,"v":8},{"ch":"RC-RMT","t":4.28,"v":4},{"ch":"RC-RMT","t":4.38,"v":8},{"ch":"RC-RMT","t":4.47,"v":2},{"ch":"RC-RMT","t":4.52,"v":4},
{"ch":"LP-E","t":0.00,"v":4},{"ch":"LP-E","t":0.03,"v":8},{"ch":"LP-E","t":0.08,"v":-30},{"ch":"LP-E","t":0.13,"v":-16},{"ch":"LP-E","t":0.18,"v":-10},{"ch":"LP-E","t":0.23,"v":-16},{"ch":"LP-E","t":0.28,"v":-2},{"ch":"LP-E","t":0.33,"v":-40},{"ch":"LP-E","t":0.39,"v":-10},{"ch":"LP-E","t":0.43,"v":-16},{"ch":"LP-E","t":0.48,"v":8},{"ch":"LP-E","t":0.52,"v":-12},{"ch":"LP-E","t":0.56,"v":-2},{"ch":"LP-E","t":0.60,"v":-22},{"ch":"LP-E","t":0.65,"v":-2},{"ch":"LP-E","t":0.70,"v":-26},{"ch":"LP-E","t":0.74,"v":-10},{"ch":"LP-E","t":0.80,"v":-32},{"ch":"LP-E","t":0.85,"v":-10},{"ch":"LP-E","t":0.90,"v":0},{"ch":"LP-E","t":0.95,"v":0},{"ch":"LP-E","t":1.00,"v":-20},{"ch":"LP-E","t":1.04,"v":-46},{"ch":"LP-E","t":1.09,"v":-16},{"ch":"LP-E","t":1.13,"v":-12},{"ch":"LP-E","t":1.18,"v":-22},{"ch":"LP-E","t":1.23,"v":-12},{"ch":"LP-E","t":1.28,"v":-14},{"ch":"LP-E","t":1.33,"v":-16},{"ch":"LP-E","t":1.39,"v":-20},{"ch":"LP-E","t":1.43,"v":-16},{"ch":"LP-E","t":1.48,"v":-22},{"ch":"LP-E","t":1.53,"v":-16},{"ch":"LP-E","t":1.58,"v":-10},{"ch":"LP-E","t":1.62,"v":-2},{"ch":"LP-E","t":1.67,"v":-22},{"ch":"LP-E","t":1.71,"v":-2},{"ch":"LP-E","t":1.76,"v":-36},{"ch":"LP-E","t":1.80,"v":-42},{"ch":"LP-E","t":1.85,"v":-32},{"ch":"LP-E","t":1.89,"v":-2},{"ch":"LP-E","t":1.92,"v":34},{"ch":"LP-E","t":1.95,"v":28},{"ch":"LP-E","t":1.98,"v":4},{"ch":"LP-E","t":2.02,"v":0},{"ch":"LP-E","t":2.07,"v":-10},{"ch":"LP-E","t":2.12,"v":-12},{"ch":"LP-E","t":2.17,"v":-20},{"ch":"LP-E","t":2.22,"v":-12},{"ch":"LP-E","t":2.27,"v":-16},{"ch":"LP-E","t":2.32,"v":-22},{"ch":"LP-E","t":2.37,"v":-12},{"ch":"LP-E","t":2.42,"v":-20},{"ch":"LP-E","t":2.47,"v":-16},{"ch":"LP-E","t":2.52,"v":-10},{"ch":"LP-E","t":2.57,"v":-20},{"ch":"LP-E","t":2.62,"v":-26},{"ch":"LP-E","t":2.67,"v":-20},{"ch":"LP-E","t":2.72,"v":-30},{"ch":"LP-E","t":2.77,"v":-22},{"ch":"LP-E","t":2.82,"v":-26},{"ch":"LP-E","t":2.87,"v":-20},{"ch":"LP-E","t":2.92,"v":-12},{"ch":"LP-E","t":2.97,"v":-22},{"ch":"LP-E","t":3.02,"v":-10},{"ch":"LP-E","t":3.07,"v":-2},{"ch":"LP-E","t":3.12,"v":24},{"ch":"LP-E","t":3.17,"v":-12},{"ch":"LP-E","t":3.22,"v":-20},{"ch":"LP-E","t":3.27,"v":-10},{"ch":"LP-E","t":3.32,"v":-20},{"ch":"LP-E","t":3.37,"v":-2},{"ch":"LP-E","t":3.42,"v":-26},{"ch":"LP-E","t":3.48,"v":0},{"ch":"LP-E","t":3.53,"v":-12},{"ch":"LP-E","t":3.59,"v":-2},{"ch":"LP-E","t":3.65,"v":-22},{"ch":"LP-E","t":3.72,"v":-32},{"ch":"LP-E","t":3.78,"v":-12},{"ch":"LP-E","t":3.83,"v":-16},{"ch":"LP-E","t":3.90,"v":-10},{"ch":"LP-E","t":3.96,"v":-2},{"ch":"LP-E","t":4.02,"v":-20},{"ch":"LP-E","t":4.07,"v":-22},{"ch":"LP-E","t":4.12,"v":-20},{"ch":"LP-E","t":4.17,"v":-16},{"ch":"LP-E","t":4.25,"v":-12},{"ch":"LP-E","t":4.32,"v":-2},{"ch":"LP-E","t":4.37,"v":-6},{"ch":"LP-E","t":4.43,"v":-20},{"ch":"LP-E","t":4.50,"v":-30},{"ch":"LP-E","t":4.53,"v":-20},
{"ch":"RP-E","t":0.00,"v":6},{"ch":"RP-E","t":0.05,"v":-14},{"ch":"RP-E","t":0.10,"v":-24},{"ch":"RP-E","t":0.17,"v":-10},{"ch":"RP-E","t":0.22,"v":0},{"ch":"RP-E","t":0.27,"v":-8},{"ch":"RP-E","t":0.33,"v":-20},{"ch":"RP-E","t":0.40,"v":-10},{"ch":"RP-E","t":0.45,"v":6},{"ch":"RP-E","t":0.50,"v":0},{"ch":"RP-E","t":0.55,"v":-14},{"ch":"RP-E","t":0.60,"v":-30},{"ch":"RP-E","t":0.65,"v":-10},{"ch":"RP-E","t":0.70,"v":-4},{"ch":"RP-E","t":0.75,"v":-8},{"ch":"RP-E","t":0.80,"v":-28},{"ch":"RP-E","t":0.85,"v":-20},{"ch":"RP-E","t":0.91,"v":0},{"ch":"RP-E","t":0.95,"v":-8},{"ch":"RP-E","t":1.01,"v":-24},{"ch":"RP-E","t":1.07,"v":-28},{"ch":"RP-E","t":1.13,"v":-8},{"ch":"RP-E","t":1.18,"v":-10},{"ch":"RP-E","t":1.25,"v":-24},{"ch":"RP-E","t":1.32,"v":-28},{"ch":"RP-E","t":1.39,"v":-18},{"ch":"RP-E","t":1.44,"v":-18},{"ch":"RP-E","t":1.48,"v":-24},{"ch":"RP-E","t":1.53,"v":-20},{"ch":"RP-E","t":1.58,"v":-4},{"ch":"RP-E","t":1.62,"v":6},{"ch":"RP-E","t":1.66,"v":-18},{"ch":"RP-E","t":1.71,"v":0},{"ch":"RP-E","t":1.78,"v":-40},{"ch":"RP-E","t":1.83,"v":-30},{"ch":"RP-E","t":1.88,"v":6},{"ch":"RP-E","t":1.92,"v":32},{"ch":"RP-E","t":1.97,"v":26},{"ch":"RP-E","t":2.01,"v":0},{"ch":"RP-E","t":2.07,"v":-4},{"ch":"RP-E","t":2.12,"v":-10},{"ch":"RP-E","t":2.17,"v":-4},{"ch":"RP-E","t":2.23,"v":-10},{"ch":"RP-E","t":2.30,"v":-4},{"ch":"RP-E","t":2.37,"v":-10},{"ch":"RP-E","t":2.43,"v":-4},{"ch":"RP-E","t":2.50,"v":-8},{"ch":"RP-E","t":2.55,"v":0},{"ch":"RP-E","t":2.60,"v":-8},{"ch":"RP-E","t":2.67,"v":-4},{"ch":"RP-E","t":2.72,"v":-30},{"ch":"RP-E","t":2.78,"v":-10},{"ch":"RP-E","t":2.85,"v":-4},{"ch":"RP-E","t":2.90,"v":-20},{"ch":"RP-E","t":2.97,"v":-8},{"ch":"RP-E","t":3.03,"v":-10},{"ch":"RP-E","t":3.10,"v":20},{"ch":"RP-E","t":3.15,"v":-18},{"ch":"RP-E","t":3.20,"v":-24},{"ch":"RP-E","t":3.25,"v":-8},{"ch":"RP-E","t":3.32,"v":0},{"ch":"RP-E","t":3.38,"v":-18},{"ch":"RP-E","t":3.43,"v":-24},{"ch":"RP-E","t":3.48,"v":0},{"ch":"RP-E","t":3.52,"v":12},{"ch":"RP-E","t":3.57,"v":-20},{"ch":"RP-E","t":3.62,"v":0},{"ch":"RP-E","t":3.67,"v":-4},{"ch":"RP-E","t":3.73,"v":-24},{"ch":"RP-E","t":3.80,"v":-14},{"ch":"RP-E","t":3.85,"v":-18},{"ch":"RP-E","t":3.92,"v":-14},{"ch":"RP-E","t":3.98,"v":-4},{"ch":"RP-E","t":4.03,"v":-18},{"ch":"RP-E","t":4.08,"v":-20},{"ch":"RP-E","t":4.15,"v":-14},{"ch":"RP-E","t":4.22,"v":-10},{"ch":"RP-E","t":4.28,"v":-18},{"ch":"RP-E","t":4.35,"v":-4},{"ch":"RP-E","t":4.42,"v":-14},{"ch":"RP-E","t":4.47,"v":-30},{"ch":"RP-E","t":4.52,"v":-20},
{"ch":"LAT-LPT","t":0.00,"v":-8},{"ch":"LAT-LPT","t":0.05,"v":-18},{"ch":"LAT-LPT","t":0.09,"v":-8},{"ch":"LAT-LPT","t":0.13,"v":-20},{"ch":"LAT-LPT","t":0.18,"v":-4},{"ch":"LAT-LPT","t":0.23,"v":-18},{"ch":"LAT-LPT","t":0.28,"v":-4},{"ch":"LAT-LPT","t":0.34,"v":-24},{"ch":"LAT-LPT","t":0.39,"v":-8},{"ch":"LAT-LPT","t":0.44,"v":-14},{"ch":"LAT-LPT","t":0.50,"v":0},{"ch":"LAT-LPT","t":0.56,"v":-18},{"ch":"LAT-LPT","t":0.61,"v":-10},{"ch":"LAT-LPT","t":0.67,"v":-24},{"ch":"LAT-LPT","t":0.72,"v":16},{"ch":"LAT-LPT","t":0.77,"v":0},{"ch":"LAT-LPT","t":0.82,"v":-8},{"ch":"LAT-LPT","t":0.86,"v":-38},{"ch":"LAT-LPT","t":0.91,"v":-8},{"ch":"LAT-LPT","t":0.96,"v":-18},{"ch":"LAT-LPT","t":1.01,"v":-8},{"ch":"LAT-LPT","t":1.07,"v":-14},{"ch":"LAT-LPT","t":1.12,"v":-4},{"ch":"LAT-LPT","t":1.17,"v":-18},{"ch":"LAT-LPT","t":1.22,"v":-8},{"ch":"LAT-LPT","t":1.28,"v":-20},{"ch":"LAT-LPT","t":1.33,"v":-4},{"ch":"LAT-LPT","t":1.39,"v":-18},{"ch":"LAT-LPT","t":1.43,"v":12},{"ch":"LAT-LPT","t":1.49,"v":-14},{"ch":"LAT-LPT","t":1.53,"v":-8},{"ch":"LAT-LPT","t":1.59,"v":-20},{"ch":"LAT-LPT","t":1.65,"v":10},{"ch":"LAT-LPT","t":1.69,"v":30},{"ch":"LAT-LPT","t":1.72,"v":20},{"ch":"LAT-LPT","t":1.77,"v":12},{"ch":"LAT-LPT","t":1.81,"v":-14},{"ch":"LAT-LPT","t":1.86,"v":-4},{"ch":"LAT-LPT","t":1.91,"v":-20},{"ch":"LAT-LPT","t":1.96,"v":-4},{"ch":"LAT-LPT","t":2.01,"v":-14},{"ch":"LAT-LPT","t":2.06,"v":2},{"ch":"LAT-LPT","t":2.11,"v":-18},{"ch":"LAT-LPT","t":2.16,"v":0},{"ch":"LAT-LPT","t":2.21,"v":-14},{"ch":"LAT-LPT","t":2.26,"v":2},{"ch":"LAT-LPT","t":2.31,"v":-14},{"ch":"LAT-LPT","t":2.36,"v":2},{"ch":"LAT-LPT","t":2.41,"v":-14},{"ch":"LAT-LPT","t":2.46,"v":0},{"ch":"LAT-LPT","t":2.51,"v":-20},{"ch":"LAT-LPT","t":2.57,"v":6},{"ch":"LAT-LPT","t":2.62,"v":10},{"ch":"LAT-LPT","t":2.67,"v":2},{"ch":"LAT-LPT","t":2.72,"v":-18},{"ch":"LAT-LPT","t":2.78,"v":0},{"ch":"LAT-LPT","t":2.83,"v":12},{"ch":"LAT-LPT","t":2.88,"v":6},{"ch":"LAT-LPT","t":2.93,"v":-20},{"ch":"LAT-LPT","t":3.00,"v":-14},{"ch":"LAT-LPT","t":3.07,"v":-10},{"ch":"LAT-LPT","t":3.13,"v":-14},{"ch":"LAT-LPT","t":3.20,"v":-8},{"ch":"LAT-LPT","t":3.27,"v":-14},{"ch":"LAT-LPT","t":3.33,"v":0},{"ch":"LAT-LPT","t":3.39,"v":-14},{"ch":"LAT-LPT","t":3.45,"v":-8},{"ch":"LAT-LPT","t":3.51,"v":-18},{"ch":"LAT-LPT","t":3.57,"v":0},{"ch":"LAT-LPT","t":3.62,"v":-18},{"ch":"LAT-LPT","t":3.68,"v":2},{"ch":"LAT-LPT","t":3.74,"v":-20},{"ch":"LAT-LPT","t":3.80,"v":0},{"ch":"LAT-LPT","t":3.86,"v":-20},{"ch":"LAT-LPT","t":3.92,"v":2},{"ch":"LAT-LPT","t":3.98,"v":-18},{"ch":"LAT-LPT","t":4.03,"v":-4},{"ch":"LAT-LPT","t":4.08,"v":-10},{"ch":"LAT-LPT","t":4.15,"v":12},{"ch":"LAT-LPT","t":4.20,"v":-8},{"ch":"LAT-LPT","t":4.25,"v":-4},{"ch":"LAT-LPT","t":4.32,"v":-24},{"ch":"LAT-LPT","t":4.38,"v":-10},{"ch":"LAT-LPT","t":4.43,"v":-14},{"ch":"LAT-LPT","t":4.49,"v":6},{"ch":"LAT-LPT","t":4.52,"v":16},
{"ch":"RAT-RPT","t":0.00,"v":16},{"ch":"RAT-RPT","t":0.05,"v":2},{"ch":"RAT-RPT","t":0.10,"v":16},{"ch":"RAT-RPT","t":0.15,"v":0},{"ch":"RAT-RPT","t":0.20,"v":12},{"ch":"RAT-RPT","t":0.25,"v":0},{"ch":"RAT-RPT","t":0.30,"v":16},{"ch":"RAT-RPT","t":0.35,"v":2},{"ch":"RAT-RPT","t":0.40,"v":16},{"ch":"RAT-RPT","t":0.45,"v":2},{"ch":"RAT-RPT","t":0.51,"v":10},{"ch":"RAT-RPT","t":0.56,"v":0},{"ch":"RAT-RPT","t":0.61,"v":20},{"ch":"RAT-RPT","t":0.67,"v":-10},{"ch":"RAT-RPT","t":0.72,"v":26},{"ch":"RAT-RPT","t":0.77,"v":6},{"ch":"RAT-RPT","t":0.82,"v":16},{"ch":"RAT-RPT","t":0.87,"v":-24},{"ch":"RAT-RPT","t":0.91,"v":16},{"ch":"RAT-RPT","t":0.95,"v":6},{"ch":"RAT-RPT","t":1.00,"v":12},{"ch":"RAT-RPT","t":1.05,"v":2},{"ch":"RAT-RPT","t":1.10,"v":10},{"ch":"RAT-RPT","t":1.16,"v":-4},{"ch":"RAT-RPT","t":1.22,"v":6},{"ch":"RAT-RPT","t":1.28,"v":0},{"ch":"RAT-RPT","t":1.33,"v":16},{"ch":"RAT-RPT","t":1.38,"v":2},{"ch":"RAT-RPT","t":1.46,"v":22},{"ch":"RAT-RPT","t":1.51,"v":-4},{"ch":"RAT-RPT","t":1.56,"v":16},{"ch":"RAT-RPT","t":1.61,"v":-14},{"ch":"RAT-RPT","t":1.67,"v":30},{"ch":"RAT-RPT","t":1.71,"v":16},{"ch":"RAT-RPT","t":1.76,"v":10},{"ch":"RAT-RPT","t":1.81,"v":-18},{"ch":"RAT-RPT","t":1.87,"v":-4},{"ch":"RAT-RPT","t":1.92,"v":-24},{"ch":"RAT-RPT","t":1.97,"v":-4},{"ch":"RAT-RPT","t":2.02,"v":-14},{"ch":"RAT-RPT","t":2.08,"v":0},{"ch":"RAT-RPT","t":2.13,"v":-10},{"ch":"RAT-RPT","t":2.18,"v":0},{"ch":"RAT-RPT","t":2.25,"v":-4},{"ch":"RAT-RPT","t":2.32,"v":6},{"ch":"RAT-RPT","t":2.37,"v":0},{"ch":"RAT-RPT","t":2.42,"v":12},{"ch":"RAT-RPT","t":2.47,"v":-14},{"ch":"RAT-RPT","t":2.52,"v":16},{"ch":"RAT-RPT","t":2.58,"v":-4},{"ch":"RAT-RPT","t":2.63,"v":22},{"ch":"RAT-RPT","t":2.68,"v":-8},{"ch":"RAT-RPT","t":2.74,"v":16},{"ch":"RAT-RPT","t":2.79,"v":-10},{"ch":"RAT-RPT","t":2.85,"v":16},{"ch":"RAT-RPT","t":2.90,"v":26},{"ch":"RAT-RPT","t":2.95,"v":-10},{"ch":"RAT-RPT","t":3.00,"v":2},{"ch":"RAT-RPT","t":3.07,"v":-4},{"ch":"RAT-RPT","t":3.13,"v":2},{"ch":"RAT-RPT","t":3.20,"v":-4},{"ch":"RAT-RPT","t":3.27,"v":4},{"ch":"RAT-RPT","t":3.33,"v":0},{"ch":"RAT-RPT","t":3.40,"v":10},{"ch":"RAT-RPT","t":3.47,"v":-4},{"ch":"RAT-RPT","t":3.53,"v":10},{"ch":"RAT-RPT","t":3.59,"v":-8},{"ch":"RAT-RPT","t":3.65,"v":12},{"ch":"RAT-RPT","t":3.72,"v":-4},{"ch":"RAT-RPT","t":3.78,"v":12},{"ch":"RAT-RPT","t":3.84,"v":-8},{"ch":"RAT-RPT","t":3.91,"v":16},{"ch":"RAT-RPT","t":3.97,"v":-4},{"ch":"RAT-RPT","t":4.02,"v":12},{"ch":"RAT-RPT","t":4.08,"v":2},{"ch":"RAT-RPT","t":4.14,"v":20},{"ch":"RAT-RPT","t":4.20,"v":0},{"ch":"RAT-RPT","t":4.26,"v":10},{"ch":"RAT-RPT","t":4.32,"v":-10},{"ch":"RAT-RPT","t":4.39,"v":0},{"ch":"RAT-RPT","t":4.45,"v":6},{"ch":"RAT-RPT","t":4.49,"v":22},
{"ch":"RAT-RPT","part":"bar","t":2.41,"t2":3.40,"v":50,"v2":50},
{"ch":"RAT-RPT","part":"bar","t":2.41,"t2":2.41,"v":62,"v2":36},
{"ch":"RAT-RPT","part":"bar","t":3.40,"t2":3.40,"v":62,"v2":36},
{"ch":"RAT-RPT","part":"bar","t":3.78,"t2":3.78,"v":96,"v2":46},
{"ch":"RAT-RPT","part":"bar","t":3.74,"t2":3.82,"v":96,"v2":96},
{"ch":"RAT-RPT","part":"bar","t":3.74,"t2":3.82,"v":46,"v2":46},
{"ch":"RAT-RPT","part":"text","t":2.43,"v":70,"label":"1 SECOND"},
{"ch":"RAT-RPT","part":"text","t":3.87,"v":52,"label":"50 Mv"}
]
},
"hconcat":[
{
"data":{"name":"pre"},
"bounds":"flush",
"spacing":0,
"title":{"text":"PRE-ELECTROSHOCK","orient":"bottom","anchor":"middle","fontSize":27,"fontWeight":"normal","font":"DejaVu Sans","color":"#231f1c","offset":-2,"dx":-3},
"facet":{"row":{"field":"ch","type":"nominal","sort":["LF-LO","RF-RO","LC-LMT","RC-RMT","LP-E","RP-E","LAT-LPT","RAT-RPT"],"header":null}},
"spec":{
"width":465,"height":80,
"layer":[
{"mark":{"type":"line","interpolate":"monotone","strokeWidth":2.3,"color":"#1f1b18"},
"encoding":{"x":{"field":"t","type":"quantitative","scale":{"domain":[0,4.65],"nice":false,"zero":false},"axis":null},
"y":{"field":"v","type":"quantitative","scale":{"domain":[-80,80],"nice":false,"zero":false},"axis":null}}},
{"transform":[{"filter":"datum.t < 0.5"},{"aggregate":[{"op":"max","field":"v","as":"vmax"},{"op":"min","field":"t","as":"tmin"}],"groupby":["ch"]}],
"mark":{"type":"text","align":"left","baseline":"alphabetic","dx":-4,"dy":-9,"fontSize":23,"font":"DejaVu Sans","color":"#231f1c"},
"encoding":{"x":{"field":"tmin","type":"quantitative","axis":null},"y":{"field":"vmax","type":"quantitative","axis":null},"text":{"field":"ch","type":"nominal"}}}
]
}
},
{
"data":{"name":"post"},
"bounds":"flush",
"spacing":0,
"title":{"text":"24 HOURS AFTER EST # 10","orient":"bottom","anchor":"middle","fontSize":27,"fontWeight":"normal","font":"DejaVu Sans","color":"#231f1c","offset":-2,"dx":18},
"facet":{"row":{"field":"ch","type":"nominal","sort":["LF-LO","RF-RO","LC-LMT","RC-RMT","LP-E","RP-E","LAT-LPT","RAT-RPT"],"header":null}},
"spec":{
"width":453,"height":80,
"layer":[
{"transform":[{"filter":"!datum.part"}],
"mark":{"type":"line","interpolate":"monotone","strokeWidth":1.9,"color":"#1f1b18"},
"encoding":{"x":{"field":"t","type":"quantitative","scale":{"domain":[0,4.53],"nice":false,"zero":false},"axis":null},
"y":{"field":"v","type":"quantitative","scale":{"domain":[-80,80],"nice":false,"zero":false},"axis":null}}},
{"transform":[{"filter":"datum.part == 'bar'"}],
"mark":{"type":"rule","strokeWidth":2,"color":"#1f1b18"},
"encoding":{"x":{"field":"t","type":"quantitative","axis":null},"x2":{"field":"t2"},"y":{"field":"v","type":"quantitative","axis":null},"y2":{"field":"v2"}}},
{"transform":[{"filter":"datum.part == 'text'"}],
"mark":{"type":"text","align":"left","baseline":"alphabetic","fontSize":18,"font":"DejaVu Sans","color":"#231f1c"},
"encoding":{"x":{"field":"t","type":"quantitative","axis":null},"y":{"field":"v","type":"quantitative","axis":null},"text":{"field":"label","type":"nominal"}}},
{"transform":[{"filter":"!datum.part && datum.t < 0.5"},{"aggregate":[{"op":"max","field":"v","as":"vmax"},{"op":"min","field":"t","as":"tmin"}],"groupby":["ch"]}],
"mark":{"type":"text","align":"left","baseline":"alphabetic","dx":-4,"dy":-9,"fontSize":23,"font":"DejaVu Sans","opacity":0},
"encoding":{"x":{"field":"tmin","type":"quantitative","axis":null},"y":{"field":"vmax","type":"quantitative","axis":null},"text":{"field":"ch","type":"nominal"}}}
]
}
}
]
}
